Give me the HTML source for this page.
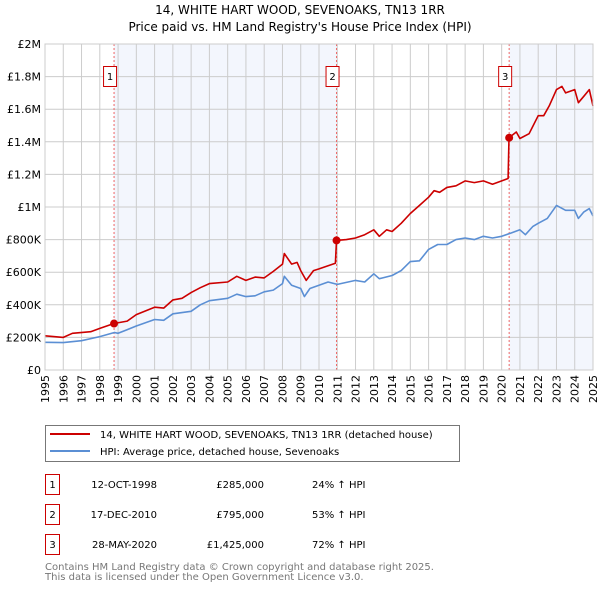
<!DOCTYPE html>
<html><head><meta charset="utf-8"><style>
body{margin:0;background:#fff;font-family:"DejaVu Sans","Liberation Sans",sans-serif}
</style></head><body>
<svg width="600" height="590" xmlns="http://www.w3.org/2000/svg" font-family="DejaVu Sans, Liberation Sans, sans-serif">
<text x="300" y="14" text-anchor="middle" font-size="12">14, WHITE HART WOOD, SEVENOAKS, TN13 1RR</text>
<text x="300" y="31" text-anchor="middle" font-size="12">Price paid vs. HM Land Registry's House Price Index (HPI)</text>
<g id="plot"></g>
<g font-size="11" text-anchor="end">
<text transform="translate(49.0,375) rotate(-90)">1995</text>
<text transform="translate(67.3,375) rotate(-90)">1996</text>
<text transform="translate(85.5,375) rotate(-90)">1997</text>
<text transform="translate(103.8,375) rotate(-90)">1998</text>
<text transform="translate(122.1,375) rotate(-90)">1999</text>
<text transform="translate(140.3,375) rotate(-90)">2000</text>
<text transform="translate(158.6,375) rotate(-90)">2001</text>
<text transform="translate(176.9,375) rotate(-90)">2002</text>
<text transform="translate(195.1,375) rotate(-90)">2003</text>
<text transform="translate(213.4,375) rotate(-90)">2004</text>
<text transform="translate(231.7,375) rotate(-90)">2005</text>
<text transform="translate(249.9,375) rotate(-90)">2006</text>
<text transform="translate(268.2,375) rotate(-90)">2007</text>
<text transform="translate(286.5,375) rotate(-90)">2008</text>
<text transform="translate(304.7,375) rotate(-90)">2009</text>
<text transform="translate(323.0,375) rotate(-90)">2010</text>
<text transform="translate(341.3,375) rotate(-90)">2011</text>
<text transform="translate(359.5,375) rotate(-90)">2012</text>
<text transform="translate(377.8,375) rotate(-90)">2013</text>
<text transform="translate(396.1,375) rotate(-90)">2014</text>
<text transform="translate(414.3,375) rotate(-90)">2015</text>
<text transform="translate(432.6,375) rotate(-90)">2016</text>
<text transform="translate(450.9,375) rotate(-90)">2017</text>
<text transform="translate(469.1,375) rotate(-90)">2018</text>
<text transform="translate(487.4,375) rotate(-90)">2019</text>
<text transform="translate(505.7,375) rotate(-90)">2020</text>
<text transform="translate(523.9,375) rotate(-90)">2021</text>
<text transform="translate(542.2,375) rotate(-90)">2022</text>
<text transform="translate(560.5,375) rotate(-90)">2023</text>
<text transform="translate(578.7,375) rotate(-90)">2024</text>
<text transform="translate(597.0,375) rotate(-90)">2025</text>
</g>
<g>
<rect x="45.5" y="425.5" width="414" height="36" fill="#fff" stroke="#777"/>
<line x1="50" y1="434" x2="90" y2="434" stroke="#c00" stroke-width="2"/>
<text x="100" y="438" font-size="10">14, WHITE HART WOOD, SEVENOAKS, TN13 1RR (detached house)</text>
<line x1="50" y1="451" x2="90" y2="451" stroke="#5b8fd4" stroke-width="2"/>
<text x="100" y="455" font-size="10">HPI: Average price, detached house, Sevenoaks</text>
</g>
<g id="table" font-size="10"></g>
<text x="45" y="570" font-size="10" fill="#777">Contains HM Land Registry data © Crown copyright and database right 2025.</text>
<text x="45" y="580" font-size="10" fill="#777">This data is licensed under the Open Government Licence v3.0.</text>
</svg>
<script>
const hpiYears=[1995,1996,1997,1998,1998.8,1999,2000,2001,2001.5,2002,2003,2003.5,2004,2005,2005.5,2006,2006.5,2007,2007.5,2008,2008.1,2008.5,2009,2009.2,2009.5,2010,2010.5,2011,2012,2012.5,2013,2013.3,2014,2014.5,2015,2015.5,2016,2016.5,2017,2017.5,2018,2018.5,2019,2019.5,2020,2020.5,2021,2021.3,2021.7,2022,2022.5,2023,2023.5,2024,2024.2,2024.5,2024.8,2025];
const hpiValues=[170,168,180,205,230,225,270,310,305,345,360,400,425,440,465,450,455,480,490,530,575,520,500,450,500,520,540,525,550,540,590,560,580,610,665,670,740,770,770,800,810,800,820,810,820,840,860,830,880,900,930,1010,980,980,930,970,990,945];
const priceYears=[1995,1996,1996.5,1997.5,1998,1998.78,1999.5,2000,2001,2001.5,2002,2002.5,2003,2003.5,2004,2005,2005.5,2006,2006.5,2007,2007.5,2008,2008.1,2008.5,2008.8,2009,2009.3,2009.7,2010,2010.5,2010.9,2010.96,2011.5,2012,2012.5,2013,2013.3,2013.7,2014,2014.5,2015,2015.5,2016,2016.3,2016.6,2017,2017.5,2018,2018.5,2019,2019.5,2020,2020.35,2020.4,2020.8,2021,2021.5,2022,2022.3,2022.6,2023,2023.3,2023.5,2024,2024.2,2024.5,2024.8,2025];
const priceValues=[210,200,225,235,255,285,300,340,385,380,430,440,475,505,530,540,575,550,570,565,605,650,715,650,660,610,550,610,620,640,655,795,800,810,830,860,820,860,850,900,960,1010,1060,1100,1090,1120,1130,1160,1150,1160,1140,1160,1175,1425,1460,1420,1450,1560,1560,1620,1720,1740,1700,1720,1640,1680,1720,1620];
const saleLabels=["1","2","3"];
const saleYears=[1998.78,2010.96,2020.41];
const saleValues=[285,795,1425];
const saleDates=["12-OCT-1998","17-DEC-2010","28-MAY-2020"];
const salePrices=["£285,000","£795,000","£1,425,000"];
const saleHpi=["24% ↑ HPI","53% ↑ HPI","72% ↑ HPI"];
const yTicks=[0,200,400,600,800,1000,1200,1400,1600,1800,2000];
const yTickLabels=["£0","£200K","£400K","£600K","£800K","£1M","£1.2M","£1.4M","£1.6M","£1.8M","£2M"];
const X0=45,X1=593,Y0=370,Y1=44;
const xs=y=>X0+(y-1995)/30*(X1-X0);
const ys=v=>Y0-v/2000*(Y0-Y1);
const NS="http://www.w3.org/2000/svg";
const plot=document.getElementById('plot');
function mk(t,a,p){const e=document.createElementNS(NS,t);for(const k in a)e.setAttribute(k,a[k]);(p||plot).appendChild(e);return e;}
let e;
e=mk('rect',{x:xs(saleYears[0]),y:Y1,width:xs(saleYears[1])-xs(saleYears[0]),height:Y0-Y1,fill:'#f3f6fd'});


e=mk('rect',{x:xs(saleYears[2]),y:Y1,width:X1-xs(saleYears[2]),height:Y0-Y1,fill:'#f3f6fd'});


for(let y=1995;y<=2025;y++){
 e=mk('line',{x1:xs(y),x2:xs(y),y1:Y1,y2:Y0,stroke:'#ccc','stroke-width':1});
 
 
}
yTicks.forEach((v,i)=>{
 e=mk('line',{x1:X0,x2:X1,y1:ys(v),y2:ys(v),stroke:'#ccc','stroke-width':1});
 
 
 e=mk('text',{x:X0-4,y:ys(v)+4,'text-anchor':'end','font-size':11});
 e.textContent=yTickLabels[i];
 
 
});
saleYears.forEach((y,i)=>{
 e=mk('line',{x1:xs(y),x2:xs(y),y1:Y1,y2:Y0,stroke:'#e66','stroke-width':1,'stroke-dasharray':'2,2'});
 
 
});
function path(xa,va,col,name){
 const d=xa.map((x,i)=>(i?'L':'M')+xs(x).toFixed(1)+','+ys(va[i]).toFixed(1)).join('');
 e=mk('path',{d:d,fill:'none',stroke:col,'stroke-width':1.6,'stroke-linejoin':'round'});
 
 
}
path(hpiYears,hpiValues,'#5b8fd4','hpi-line');
path(priceYears,priceValues,'#c00','price-line');
saleYears.forEach((y,i)=>{
 e=mk('circle',{cx:xs(y),cy:ys(saleValues[i]),r:4,fill:'#c00'});
 
 
 e=mk('rect',{x:xs(y)-10.5,y:66.5,width:13,height:20,fill:'#fff',stroke:'#c00'});
 
 
 e=mk('text',{x:xs(y)-4,y:80,'text-anchor':'middle','font-size':10});
 e.textContent=saleLabels[i];
 
 
});
e=mk('rect',{x:X0,y:Y1,width:X1-X0,height:Y0-Y1,fill:'none',stroke:'#ccc'});
const tb=document.getElementById('table');
saleLabels.forEach((l,i)=>{
 const cy=483+i*30;
 e=mk('rect',{x:45.5,y:cy-8.5,width:14,height:20,fill:'#fff',stroke:'#c00'},tb);
 
 
 e=mk('text',{x:52.5,y:cy+5,'text-anchor':'middle'},tb);e.textContent=l;
 
 
 e=mk('text',{x:157,y:cy+5,'text-anchor':'end'},tb);e.textContent=saleDates[i];
 
 
 e=mk('text',{x:264,y:cy+5,'text-anchor':'end'},tb);e.textContent=salePrices[i];
 
 
 e=mk('text',{x:312,y:cy+5},tb);e.textContent=saleHpi[i];
 
 
});
</script>
</body></html>
